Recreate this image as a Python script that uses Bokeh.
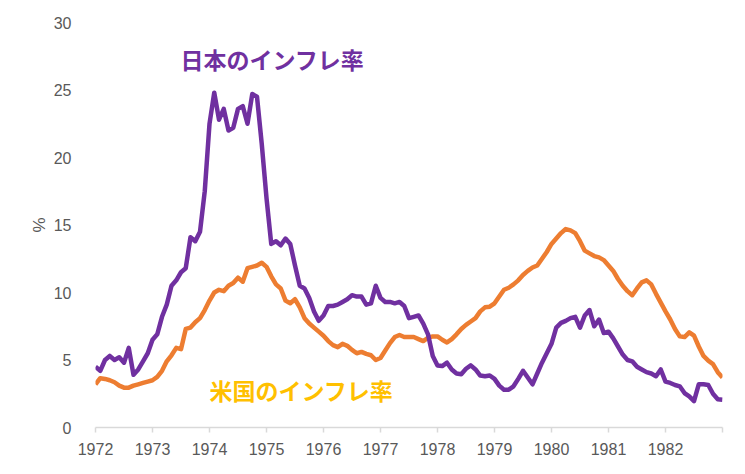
from bokeh.plotting import figure
from bokeh.models import Range1d, FixedTicker, Label, ColumnDataSource
from bokeh.embed import file_html
from bokeh.resources import INLINE

# Monthly inflation rates (%), Jan 1972 .. Jan 1983
japan = [4.5, 4.2, 5.0, 5.3, 5.0, 5.2, 4.8, 5.9, 3.9, 4.3, 4.9, 5.5,
         6.5, 6.9, 8.2, 9.1, 10.5, 10.9, 11.5, 11.8, 14.1, 13.8, 14.5, 17.5,
         22.5, 24.8, 22.8, 23.6, 22.0, 22.2, 23.6, 23.8, 22.5, 24.7, 24.5, 21.0,
         17.0, 13.6, 13.8, 13.5, 14.0, 13.6, 12.0, 10.5, 10.3, 9.6, 8.6, 7.9,
         8.3, 9.0, 9.0, 9.1, 9.3, 9.5, 9.8, 9.7, 9.7, 9.1, 9.2, 10.5,
         9.6, 9.3, 9.3, 9.2, 9.3, 9.0, 8.1, 8.2, 8.3, 7.7, 6.9, 5.3,
         4.6, 4.55, 4.8, 4.3, 4.0, 3.95, 4.35, 4.6, 4.3, 3.85, 3.8, 3.85,
         3.6, 3.1, 2.8, 2.8, 3.05, 3.6, 4.2, 3.7, 3.2, 4.0, 4.8, 5.5,
         6.2, 7.4, 7.75, 7.9, 8.1, 8.2, 7.4, 8.3, 8.7, 7.5, 8.0, 7.0,
         7.1, 6.6, 6.0, 5.4, 5.0, 4.9, 4.5, 4.3, 4.1, 4.0, 3.8, 4.3,
         3.4, 3.3, 3.15, 3.05, 2.55, 2.3, 1.95, 3.2, 3.2, 3.15, 2.5, 2.1,
         2.05]
us = [3.2, 3.65, 3.6, 3.5, 3.35, 3.1, 2.95, 2.95, 3.1, 3.2, 3.3, 3.4,
      3.5, 3.75, 4.2, 4.9, 5.35, 5.9, 5.8, 7.3, 7.4, 7.8, 8.1, 8.7,
      9.4, 10.0, 10.2, 10.1, 10.5, 10.7, 11.1, 10.8, 11.8, 11.9, 12.0, 12.2,
      11.9, 11.2, 10.6, 10.3, 9.4, 9.2, 9.5, 8.9, 8.1, 7.7, 7.4, 7.1,
      6.8, 6.4, 6.1, 5.95, 6.2, 6.05, 5.75, 5.5, 5.6, 5.45, 5.35, 5.0,
      5.15, 5.7, 6.25, 6.7, 6.85, 6.7, 6.7, 6.7, 6.55, 6.4, 6.65, 6.75,
      6.75, 6.5, 6.3, 6.55, 6.9, 7.3, 7.6, 7.85, 8.1, 8.6, 8.9, 8.95,
      9.2, 9.7, 10.2, 10.35, 10.6, 10.9, 11.3, 11.6, 11.85, 12.0, 12.5, 13.0,
      13.6, 14.0, 14.4, 14.7, 14.6, 14.4, 13.8, 13.1, 12.9, 12.7, 12.6, 12.4,
      12.0, 11.6, 11.0, 10.5, 10.1, 9.8, 10.3, 10.75, 10.9, 10.6, 9.9, 9.25,
      8.6, 8.0, 7.3, 6.75, 6.7, 7.05, 6.8, 6.0, 5.3, 4.95, 4.7, 4.1,
      3.7]
start_year = 1972
years = list(range(1972, 1984))
year_labels = {y: str(y) for y in years}
year_labels[1983] = ""
y_ticks = [0, 5, 10, 15, 20, 25, 30]

months = [start_year + i / 12 for i in range(len(japan))]
src = ColumnDataSource(dict(x=months, japan=japan, us=us))

PURPLE = "#7030A0"
ORANGE = "#ED7D31"
GOLD = "#FFC000"
GRAY = "#595959"

p = figure(width=737, height=466, output_backend="svg", toolbar_location=None,
           x_range=Range1d(1972, 1983), y_range=Range1d(0, 30),
           min_border_left=95, min_border_right=15, min_border_top=22,
           min_border_bottom=39)
p.outline_line_color = None
p.xgrid.grid_line_color = None
p.ygrid.grid_line_color = None

p.line("x", "us", source=src, line_color=ORANGE, line_width=4.5, line_join="round")
p.line("x", "japan", source=src, line_color=PURPLE, line_width=4.5, line_join="round")

# x axis
xa = p.xaxis[0]
xa.ticker = FixedTicker(ticks=years)
xa.major_label_overrides = year_labels
xa.axis_line_color = "#D9D9D9"
xa.axis_line_width = 1.5
xa.major_tick_line_color = "#D9D9D9"
xa.major_tick_line_width = 1.5
xa.major_tick_in = 0
xa.major_tick_out = 5
xa.minor_tick_line_color = None
xa.major_label_standoff = 10
xa.major_label_text_font = "Liberation Sans"
xa.major_label_text_font_size = "16px"
xa.major_label_text_color = GRAY

# y axis
ya = p.yaxis[0]
ya.ticker = FixedTicker(ticks=y_ticks)
ya.axis_line_color = None
ya.major_tick_line_color = None
ya.minor_tick_line_color = None
ya.major_label_standoff = 18
ya.major_label_text_font = "Liberation Sans"
ya.major_label_text_font_size = "16px"
ya.major_label_text_color = GRAY
ya.axis_label = "%"
ya.axis_label_standoff = 2
ya.axis_label_text_font = "Liberation Sans"
ya.axis_label_text_font_size = "17px"
ya.axis_label_text_font_style = "normal"
ya.axis_label_text_color = GRAY

p.add_layout(Label(x=1973.49, y=27.3, text="日本のインフレ率", text_color=PURPLE,
                   text_font="Noto Sans CJK JP", text_font_style="bold",
                   text_font_size="23px", text_baseline="middle", text_align="left"))
p.add_layout(Label(x=1974.0, y=2.8, text="米国のインフレ率", text_color=GOLD,
                   text_font="Noto Sans CJK JP", text_font_style="bold",
                   text_font_size="23px", text_baseline="middle", text_align="left"))

open("out.html", "w").write(file_html(p, INLINE))
